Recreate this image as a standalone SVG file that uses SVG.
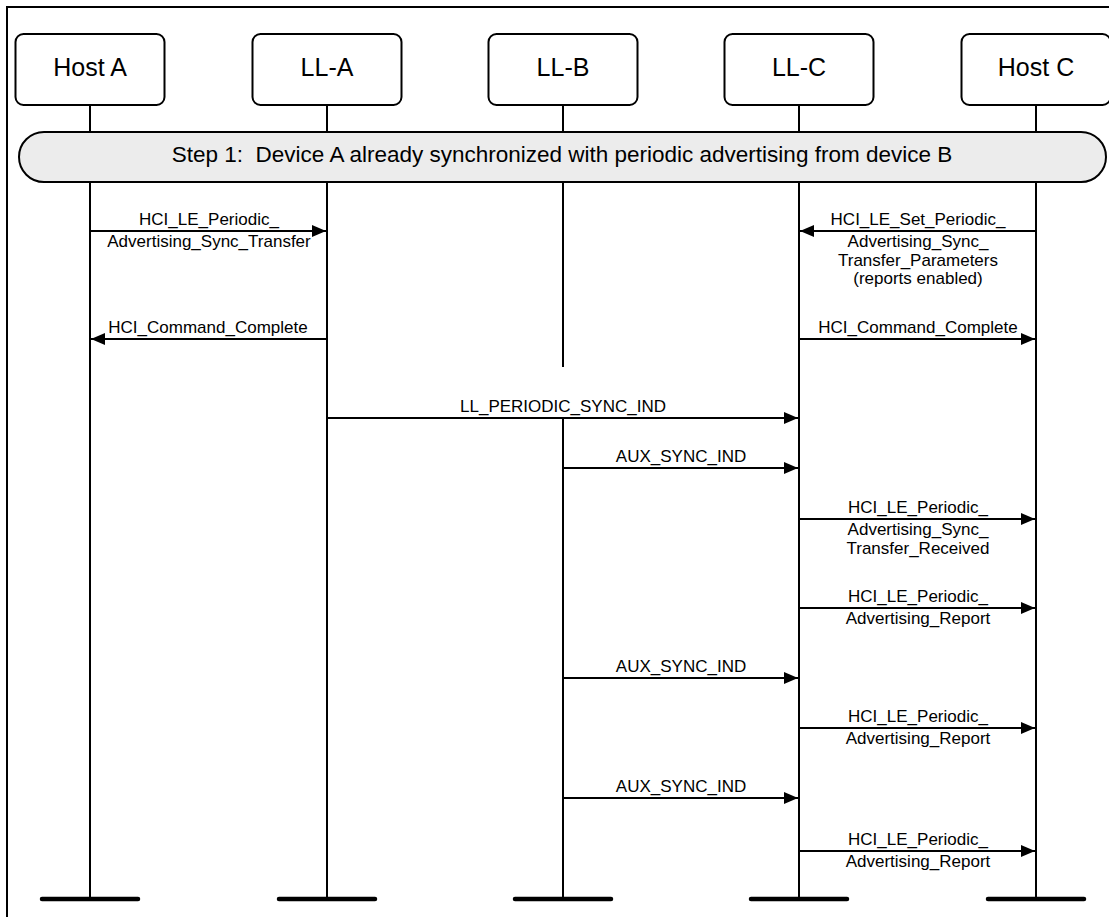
<svg xmlns="http://www.w3.org/2000/svg" width="1109" height="917" viewBox="0 0 1109 917">
<style>
.frame{fill:none;stroke:#000;stroke-width:2}
.box{fill:#fff;stroke:#000;stroke-width:2}
.banner{fill:#ececec;stroke:#000;stroke-width:2}
.life{stroke:#000;stroke-width:2;fill:none}
.bar{stroke:#000;stroke-width:4.5;stroke-linecap:round}
.msg{stroke:#000;stroke-width:2;fill:none;marker-end:url(#ah)}
.nt{font-family:"Liberation Sans",Arial,sans-serif;font-size:25px;text-anchor:middle;fill:#000}
.bt{font-family:"Liberation Sans",Arial,sans-serif;font-size:22.5px;text-anchor:middle;fill:#000}
.lt{font-family:"Liberation Sans",Arial,sans-serif;font-size:17px;text-anchor:middle;fill:#000}
</style>
<defs>
<marker id="ah" markerUnits="userSpaceOnUse" markerWidth="14" markerHeight="12" refX="14" refY="6" orient="auto">
<path d="M0,0 L14,6 L0,12 z" fill="#000"/>
</marker>
</defs>
<rect width="1109" height="917" fill="#fff"/>
<rect class="frame" x="7" y="7" width="1130" height="940"/>
<g id="lifelines">
<line class="life" x1="90" y1="105" x2="90" y2="899"/>
<line class="life" x1="327" y1="105" x2="327" y2="899"/>
<line class="life" x1="563" y1="105" x2="563" y2="367"/>
<line class="life" x1="563" y1="418" x2="563" y2="899"/>
<line class="life" x1="799" y1="105" x2="799" y2="899"/>
<line class="life" x1="1036" y1="105" x2="1036" y2="899"/>
<line class="bar" x1="42" y1="899" x2="138" y2="899"/>
<line class="bar" x1="279" y1="899" x2="375" y2="899"/>
<line class="bar" x1="515" y1="899" x2="611" y2="899"/>
<line class="bar" x1="751" y1="899" x2="847" y2="899"/>
<line class="bar" x1="988" y1="899" x2="1084" y2="899"/>
</g>
<g id="host-a"><rect class="box" x="15.5" y="34" width="149" height="71" rx="8"/><text class="nt" x="90" y="76">Host A</text></g>
<g id="ll-a"><rect class="box" x="252.5" y="34" width="149" height="71" rx="8"/><text class="nt" x="327" y="76">LL-A</text></g>
<g id="ll-b"><rect class="box" x="488.5" y="34" width="149" height="71" rx="8"/><text class="nt" x="563" y="76">LL-B</text></g>
<g id="ll-c"><rect class="box" x="724.5" y="34" width="149" height="71" rx="8"/><text class="nt" x="799" y="76">LL-C</text></g>
<g id="host-c"><rect class="box" x="961.5" y="34" width="149" height="71" rx="8"/><text class="nt" x="1036" y="76">Host C</text></g>
<g id="step1"><rect class="banner" x="19" y="132" width="1087" height="50" rx="25"/><text class="bt" x="562" y="162" xml:space="preserve">Step 1:  Device A already synchronized with periodic advertising from device B</text></g>
<g id="connectors">
<line class="msg" x1="90" y1="231" x2="326" y2="231"/>
<text class="lt" x="209" y="225">HCI_LE_Periodic_</text>
<text class="lt" x="209" y="247">Advertising_Sync_Transfer</text>
<line class="msg" x1="1036" y1="231" x2="800" y2="231"/>
<text class="lt" x="918" y="225">HCI_LE_Set_Periodic_</text>
<text class="lt" x="918" y="247">Advertising_Sync_</text>
<text class="lt" x="918" y="265.5">Transfer_Parameters</text>
<text class="lt" x="918" y="284">(reports enabled)</text>
<line class="msg" x1="327" y1="339" x2="91" y2="339"/>
<text class="lt" x="208" y="333">HCI_Command_Complete</text>
<line class="msg" x1="799" y1="339" x2="1035" y2="339"/>
<text class="lt" x="918" y="333">HCI_Command_Complete</text>
<line class="msg" x1="327" y1="418" x2="798" y2="418"/>
<text class="lt" x="563" y="412">LL_PERIODIC_SYNC_IND</text>
<line class="msg" x1="563" y1="468" x2="798" y2="468"/>
<text class="lt" x="681" y="462">AUX_SYNC_IND</text>
<line class="msg" x1="799" y1="519" x2="1035" y2="519"/>
<text class="lt" x="918" y="513">HCI_LE_Periodic_</text>
<text class="lt" x="918" y="535">Advertising_Sync_</text>
<text class="lt" x="918" y="553.5">Transfer_Received</text>
<line class="msg" x1="799" y1="608" x2="1035" y2="608"/>
<text class="lt" x="918" y="602">HCI_LE_Periodic_</text>
<text class="lt" x="918" y="623.5">Advertising_Report</text>
<line class="msg" x1="563" y1="678" x2="798" y2="678"/>
<text class="lt" x="681" y="672">AUX_SYNC_IND</text>
<line class="msg" x1="799" y1="728" x2="1035" y2="728"/>
<text class="lt" x="918" y="722">HCI_LE_Periodic_</text>
<text class="lt" x="918" y="743.5">Advertising_Report</text>
<line class="msg" x1="563" y1="798" x2="798" y2="798"/>
<text class="lt" x="681" y="792">AUX_SYNC_IND</text>
<line class="msg" x1="799" y1="851" x2="1035" y2="851"/>
<text class="lt" x="918" y="845">HCI_LE_Periodic_</text>
<text class="lt" x="918" y="867">Advertising_Report</text>
</g>
</svg>
